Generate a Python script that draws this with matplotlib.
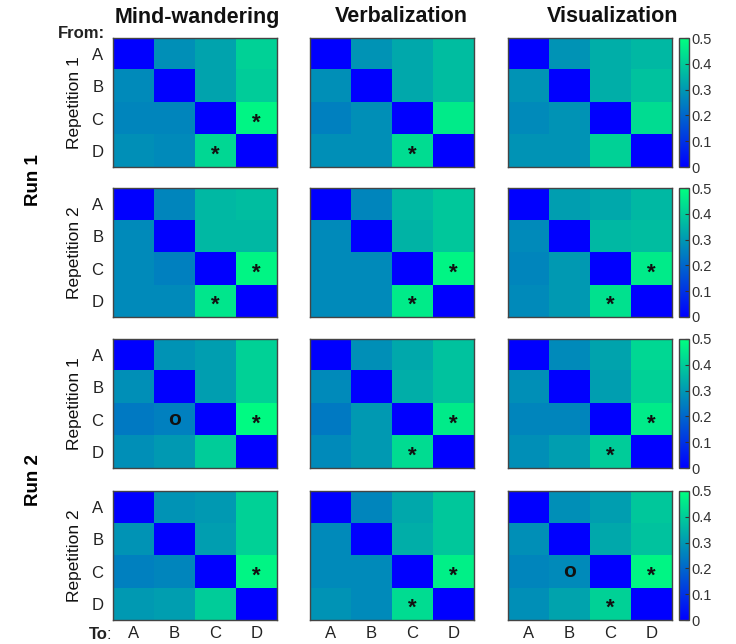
import numpy as np
import matplotlib
matplotlib.use("Agg")
import matplotlib.pyplot as plt

plt.rcParams['font.family'] = ['Liberation Sans', 'DejaVu Sans']

conditions = ["Mind-wandering", "Verbalization", "Visualization"]
row_labels = ["Repetition 1", "Repetition 2", "Repetition 1", "Repetition 2"]
run_labels = ["Run 1", "Run 2"]
states = ["A", "B", "C", "D"]
cbar_ticks = [0, 0.1, 0.2, 0.3, 0.4, 0.5]
cbar_ticklabels = ["0", "0.1", "0.2", "0.3", "0.4", "0.5"]

# Run 1, Repetition 1
r1r1_mind = [[0, 0.28, 0.32, 0.41], [0.27, 0, 0.32, 0.40], [0.26, 0.26, 0, 0.48], [0.28, 0.27, 0.42, 0]]
r1r1_verb = [[0, 0.29, 0.33, 0.37], [0.28, 0, 0.33, 0.37], [0.25, 0.28, 0, 0.46], [0.28, 0.28, 0.43, 0]]
r1r1_vis = [[0, 0.29, 0.34, 0.36], [0.29, 0, 0.34, 0.38], [0.27, 0.29, 0, 0.43], [0.29, 0.29, 0.41, 0]]
# Run 1, Repetition 2
r1r2_mind = [[0, 0.26, 0.36, 0.37], [0.27, 0, 0.36, 0.36], [0.27, 0.25, 0, 0.48], [0.27, 0.27, 0.45, 0]]
r1r2_verb = [[0, 0.26, 0.36, 0.39], [0.27, 0, 0.35, 0.39], [0.27, 0.27, 0, 0.48], [0.27, 0.27, 0.46, 0]]
r1r2_vis = [[0, 0.31, 0.33, 0.36], [0.27, 0, 0.36, 0.37], [0.26, 0.30, 0, 0.46], [0.27, 0.30, 0.44, 0]]
# Run 2, Repetition 1
r2r1_mind = [[0, 0.29, 0.31, 0.41], [0.28, 0, 0.31, 0.41], [0.24, 0.25, 0, 0.49], [0.28, 0.30, 0.40, 0]]
r2r1_verb = [[0, 0.28, 0.33, 0.38], [0.27, 0, 0.34, 0.38], [0.24, 0.30, 0, 0.46], [0.27, 0.30, 0.43, 0]]
r2r1_vis = [[0, 0.27, 0.32, 0.42], [0.28, 0, 0.31, 0.41], [0.26, 0.26, 0, 0.46], [0.28, 0.31, 0.40, 0]]
# Run 2, Repetition 2
r2r2_mind = [[0, 0.29, 0.30, 0.41], [0.29, 0, 0.31, 0.41], [0.25, 0.26, 0, 0.48], [0.30, 0.31, 0.40, 0]]
r2r2_verb = [[0, 0.26, 0.33, 0.39], [0.27, 0, 0.34, 0.39], [0.27, 0.27, 0, 0.47], [0.29, 0.27, 0.43, 0]]
r2r2_vis = [[0, 0.28, 0.31, 0.39], [0.28, 0, 0.33, 0.38], [0.26, 0.27, 0, 0.48], [0.28, 0.32, 0.41, 0]]

matrices = [
    [r1r1_mind, r1r1_verb, r1r1_vis],
    [r1r2_mind, r1r2_verb, r1r2_vis],
    [r2r1_mind, r2r1_verb, r2r1_vis],
    [r2r2_mind, r2r2_verb, r2r2_vis],
]

# significance markers: (panel row, panel col, from index, to index, symbol)
markers = [
    (0, 0, 2, 3, "*"), (0, 0, 3, 2, "*"),
    (0, 1, 3, 2, "*"),
    (1, 0, 2, 3, "*"), (1, 0, 3, 2, "*"),
    (1, 1, 2, 3, "*"), (1, 1, 3, 2, "*"),
    (1, 2, 2, 3, "*"), (1, 2, 3, 2, "*"),
    (2, 0, 2, 3, "*"), (2, 0, 2, 1, "o"),
    (2, 1, 2, 3, "*"), (2, 1, 3, 2, "*"),
    (2, 2, 2, 3, "*"), (2, 2, 3, 2, "*"),
    (3, 0, 2, 3, "*"),
    (3, 1, 2, 3, "*"), (3, 1, 3, 2, "*"),
    (3, 2, 2, 3, "*"), (3, 2, 3, 2, "*"), (3, 2, 2, 1, "o"),
]

W, H = 736, 644
fig = plt.figure(figsize=(W / 100, H / 100), dpi=100)

col_x = [113, 310, 508]
row_y = [38, 188, 339, 491]
title_cx = [197, 401, 613]
pw, ph = 164, 129
edge = "#444444"
txt = "#222222"

def px_axes(x, y, w, h):
    return fig.add_axes([x / W, 1 - (y + h) / H, w / W, h / H])

axes = {}
for r in range(4):
    for c in range(3):
        ax = px_axes(col_x[c], row_y[r], pw, ph)
        axes[(r, c)] = ax
        im = ax.imshow(np.array(matrices[r][c]), cmap="winter", vmin=0, vmax=0.5,
                       aspect="auto", interpolation="nearest")
        for s in ax.spines.values():
            s.set_color(edge)
            s.set_linewidth(1.0)
        ax.tick_params(axis="y", length=0, labelsize=12, colors=txt, pad=7)
        ax.tick_params(axis="x", length=0, labelsize=12, colors=txt, pad=4)
        ax.set_xticks(range(4))
        ax.set_yticks(range(4))
        if c == 0:
            ax.set_yticklabels(states)
            ax.set_ylabel(row_labels[r], fontsize=12.5, color="#111111", labelpad=7)
        else:
            ax.set_yticklabels([])
        if r == 3:
            ax.set_xticklabels(states)
        else:
            ax.set_xticklabels([])
        if c == 2:
            cax = px_axes(679, row_y[r], 10, ph)
            cb = fig.colorbar(im, cax=cax, ticks=cbar_ticks)
            cb.ax.set_yticklabels(cbar_ticklabels)
            cb.ax.tick_params(labelsize=10.5, length=3, direction="in", colors="#333333", pad=2)
            cb.outline.set_edgecolor(edge)
            cb.outline.set_linewidth(1.0)

for c in range(3):
    fig.text(title_cx[c] / W, 1 - 17 / H, conditions[c], fontsize=15.5, fontweight="bold",
             ha="center", va="center", color="#111111")

for (r, c, i, j, sym) in markers:
    ax = axes[(r, c)]
    if sym == "*":
        ax.text(j, i + 0.14, "*", ha="center", va="center", fontsize=16,
                fontweight="bold", color="#111111")
    else:
        ax.text(j, i, "o", ha="center", va="center", fontsize=15,
                fontweight="bold", color="#111111")

fig.text(58 / W, 1 - 33 / H, "From:", fontsize=12, fontweight="bold", ha="left", va="center", color=txt)
fig.text(89 / W, 1 - 639 / H, "To", fontsize=12, fontweight="bold", ha="left", va="baseline", color=txt)
fig.text(107 / W, 1 - 639 / H, ":", fontsize=12, ha="left", va="baseline", color=txt)

fig.text(34 / W, 1 - 180 / H, run_labels[0], fontsize=13.5, fontweight="bold", rotation=90,
         ha="center", va="center")
fig.text(34 / W, 1 - 480 / H, run_labels[1], fontsize=13.5, fontweight="bold", rotation=90,
         ha="center", va="center")

fig.savefig("out.png", dpi=100)
